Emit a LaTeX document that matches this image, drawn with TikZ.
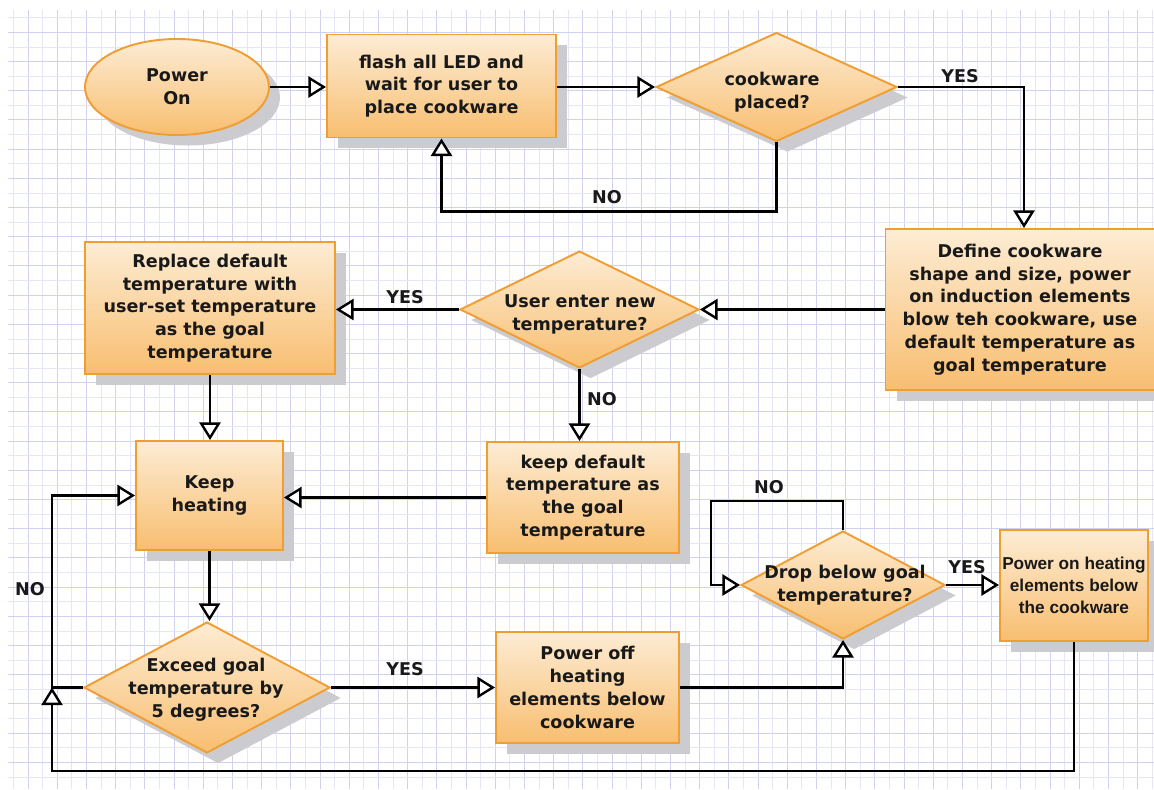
\documentclass[tikz,border=0pt]{standalone}
\usepackage{fontspec}
\setmainfont{DejaVu Sans}
\newfontfamily\arialfont{Liberation Sans}
\usetikzlibrary{shapes.geometric,arrows.meta,shadows}
\definecolor{bord}{RGB}{240,158,50}
\definecolor{lite}{RGB}{253,236,212}
\definecolor{deep}{RGB}{248,190,112}
\definecolor{gmaj}{RGB}{208,208,240}
\definecolor{gmin}{RGB}{230,230,247}
\definecolor{shd}{RGB}{204,204,208}
\definecolor{ink}{RGB}{25,25,25}
\begin{document}
\begin{tikzpicture}[x=0.02cm,y=-0.02cm,
  sz/.style 2 args={minimum width=#1*0.02cm, minimum height=#2*0.02cm},
  base/.style={draw=bord, line width=1.1pt, top color=lite, bottom color=deep, inner sep=0pt,
    drop shadow={shadow xshift=0.22cm, shadow yshift=-0.21cm, fill=shd, opacity=1}},
  proc/.style={base, rectangle},
  term/.style={base, ellipse},
  dec/.style={base, diamond},
  txt/.style={font=\fontsize{10}{13}\selectfont\bfseries, text=ink, align=center},
  atxt/.style={font=\arialfont\fontsize{9.8}{12.5}\selectfont\bfseries, text=ink, align=center},
  lbl/.style={font=\fontsize{10}{12}\selectfont\bfseries, text=ink},
  conn/.style={draw=black, line width=1.35pt, -{Triangle[length=10pt,width=12pt,fill=white]}}
]
\useasboundingbox (0,0) rectangle (1154,789);
\fill[white] (0,0) rectangle (1154,789);
\begin{scope}
\clip (8,10) rectangle (1154,789);
\foreach \i in {0,...,40} {
  \draw[gmin, line width=0.4pt] ({13.4+29.2*\i},10) -- ({13.4+29.2*\i},789);
  \draw[gmaj, line width=0.5pt] ({28+29.2*\i},10) -- ({28+29.2*\i},789);
}
\foreach \j in {0,...,27} {
  \draw[gmin, line width=0.4pt] (8,{17.7+29.2*\j}) -- (1154,{17.7+29.2*\j});
  \draw[gmaj, line width=0.5pt] (8,{32.3+29.2*\j}) -- (1154,{32.3+29.2*\j});
}
\end{scope}

% nodes
\node[term, txt, sz={184}{96}] (pw) at (177,87) {Power\\On};
\node[proc, txt, sz={229}{103}] (fl) at (441.5,86) {flash all LED and\\wait for user to\\place cookware};
\node[dec, sz={241}{109}] (cw) at (776.5,87) {};
\node[txt] (cwt) at (772,92) {cookware\\placed?};
\node[proc, txt, sz={269}{161}] (df) at (1020,309.5) {Define cookware\\shape and size, power\\on induction elements\\blow teh cookware, use\\default temperature as\\goal temperature};
\node[dec, sz={239}{117}] (ue) at (579.5,309.5) {};
\node[txt] (uet) at (580,314) {User enter new\\temperature?};
\node[proc, txt, sz={250}{132}] (rp) at (210,308) {Replace default\\temperature with\\user-set temperature\\as the goal\\temperature};
\node[proc, txt, sz={192}{111}] (kd) at (583,497.5) {keep default\\temperature as\\the goal\\temperature};
\node[proc, txt, sz={147}{109}] (kh) at (209.5,495.5) {Keep\\heating};
\node[dec, sz={246}{131}] (ex) at (207,687.5) {};
\node[txt] (ext) at (206,690) {Exceed goal\\temperature by\\5 degrees?};
\node[proc, txt, sz={183}{111}] (po) at (587.5,687.5) {Power off\\heating\\elements below\\cookware};
\node[dec, sz={204}{108}] (dr) at (843,585) {};
\node[txt] (drt) at (845,585) {Drop below goal\\temperature?};
\node[proc, atxt, sz={148}{111}] (ph) at (1074,585.5) {Power on heating\\elements below\\the cookware};

\coordinate (j) at (52,687.5);
\coordinate (bt) at (52,771);
\coordinate (lp) at (711,501);

% connectors
\draw[conn] (pw.east) -- (pw.east -| fl.west);
\draw[conn] (fl.east |- cw) -- (cw.west);
\draw[conn] (cw.east) -| ([xshift=0.08cm]df.north);
\draw[conn] (cw.south) -- ++(0,69) -| (fl.south);
\draw[conn] (df.west |- ue) -- (ue.east);
\draw[conn] (ue.west) -- (ue.west -| rp.east);
\draw[conn] (ue.south) -- (ue.south |- kd.north);
\draw[conn] (rp.south) -- (rp.south |- kh.north);
\draw[conn] (kd.west) -- (kd.west -| kh.east);
\draw[conn] (kh.south) -- (kh.south |- ex.north);
\draw[conn] (ex.west) -- (j) |- (kh.west);
\draw[conn] (ex.east) -- (ex.east -| po.west);
\draw[conn] (po.east) -| (dr.south);
\draw[conn] (dr.north) |- (lp) |- (dr.west);
\draw[conn] (dr.east) -- (dr.east -| ph.west);
\draw[conn] (ph.south) |- (bt) -- (j);

% labels
\node[lbl] (l1) at (960,76) {YES};
\node[lbl] (l2) at (607,197) {NO};
\node[lbl] (l3) at (405,297) {YES};
\node[lbl] (l4) at (602,399) {NO};
\node[lbl] (l5) at (30,589) {NO};
\node[lbl] (l6) at (405,669) {YES};
\node[lbl] (l7) at (769,487) {NO};
\node[lbl] (l8) at (967,567) {YES};
\end{tikzpicture}
\end{document}
